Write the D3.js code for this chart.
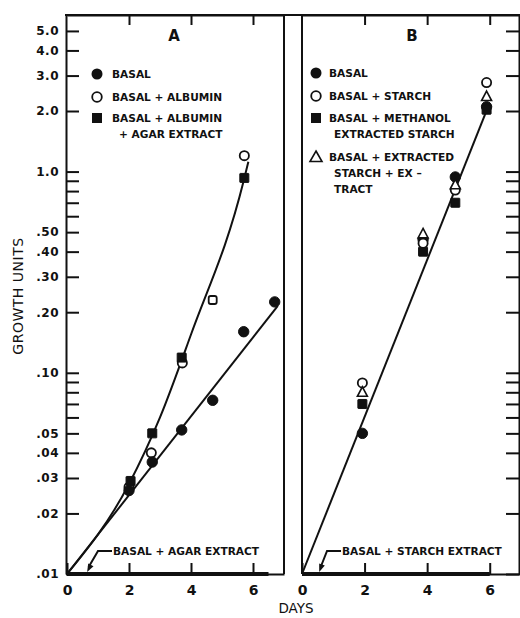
<!DOCTYPE html>
<html>
<head>
<meta charset="utf-8">
<script src="https://cdn.jsdelivr.net/npm/d3@7"></script>
<style>
body { margin: 0; background: #fff; }
text { font-family: "DejaVu Sans", sans-serif; fill: #111; }
</style>
</head>
<body>
<div id="chart"></div>
<script>
//width and height
var w = 520;
var h = 618;

// panel A data
var daysBasalA = [2, 2.75, 3.7, 4.7, 5.7, 6.7];
var basalA = [0.026, 0.036, 0.052, 0.073, 0.16, 0.225];
var daysAlbuminA = [2, 2.72, 3.72, 5.72];
var albuminA = [0.027, 0.040, 0.112, 1.2];
var daysOddA = [4.7];
var oddA = [0.23];
var daysAgarA = [2.05, 2.75, 3.7, 5.72];
var agarA = [0.029, 0.050, 0.119, 0.93];
var fitBasalA = [[0, 0.01], [6.8, 0.215]];
var fitAlbuminA = [[0, 0.01], [2, 0.028], [3, 0.06], [4, 0.155], [5.7, 0.9], [5.85, 1.12]];
var agarExtractA = [[0, 0.01], [6.5, 0.01]];

// panel B data
var daysB = [1.93, 3.87, 4.9, 5.9];
var basalB = [0.050, 0.46, 0.94, 2.1];
var starchB = [0.089, 0.44, 0.81, 2.77];
var methanolB = [0.070, 0.40, 0.70, 2.03];
var extractB = [0.080, 0.49, 0.86, 2.36];
var fitB = [[0, 0.01], [5.95, 2.1]];
var starchExtractB = [[0, 0.01], [6, 0.01]];

// axes
var yTicks = [0.01, 0.02, 0.03, 0.04, 0.05, 0.06, 0.07, 0.08, 0.09, 0.1, 0.2, 0.3, 0.4, 0.5, 0.6, 0.7, 0.8, 0.9, 1, 2, 3, 4, 5];
var yTickLabels = {0.01: ".01", 0.02: ".02", 0.03: ".03", 0.04: ".04", 0.05: ".05", 0.1: ".10", 0.2: ".20",
	0.3: ".30", 0.4: ".40", 0.5: ".50", 1: "1.0", 2: "2.0", 3: "3.0", 4: "4.0", 5: "5.0"};
var xTicks = [0, 2, 4, 6];
var xTopTicks = [2, 4, 6];

// legends
var legendA = [["BASAL"], ["BASAL + ALBUMIN"], ["BASAL + ALBUMIN", "+ AGAR EXTRACT"]];
var legendB = [["BASAL"], ["BASAL + STARCH"], ["BASAL + METHANOL", "EXTRACTED STARCH"], ["BASAL + EXTRACTED", "STARCH + EX –", "TRACT"]];

var zip = function (xs, ys) { return xs.map(function (d, i) { return [d, ys[i]]; }); };

var svg = d3.select("#chart")
	.append("svg")
	.attr("width", w)
	.attr("height", h);

//scale functions
var y = d3.scaleLog().domain([0.01, 6]).range([574, 15]);
var xA = d3.scaleLinear().domain([0, 7]).range([67, 284]);
var xB = d3.scaleLinear().domain([0, 7]).range([302, 521]);

function styleAxis(g, size) {
	g.attr("font-family", null).attr("font-size", null);
	g.selectAll("path, line").attr("stroke", "#111").attr("stroke-width", 2);
	g.selectAll("text").attr("font-size", size).attr("font-weight", "bold").attr("fill", "#111");
}

// top border
svg.append("line")
	.attr("x1", 65).attr("x2", 521)
	.attr("y1", y(6)).attr("y2", y(6))
	.attr("stroke", "#111").attr("stroke-width", 2);

// left y axis
svg.append("g")
	.attr("transform", "translate(66,0)")
	.call(d3.axisLeft(y).tickValues(yTicks).tickSize(-13).tickSizeOuter(0).tickPadding(7)
		.tickFormat(function (d) { return yTickLabels[d] || ""; }))
	.call(styleAxis, "12px")
	.selectAll("text").attr("letter-spacing", "0.5px");

// right y axis, panel B
svg.append("g")
	.attr("transform", "translate(519,0)")
	.call(d3.axisRight(y).tickValues(yTicks).tickSize(-13).tickSizeOuter(0).tickFormat(""))
	.call(styleAxis, "12px");

// panel borders (double line)
[xA(7), xB(0)].forEach(function (px) {
	svg.append("line")
		.attr("x1", px).attr("x2", px)
		.attr("y1", y(6)).attr("y2", y(0.01))
		.attr("stroke", "#111").attr("stroke-width", 2);
});

// x axes
[xA, xB].forEach(function (x) {
	svg.append("g")
		.attr("transform", "translate(0," + y(0.01) + ")")
		.call(d3.axisBottom(x).tickValues(xTicks).tickSize(-11).tickSizeOuter(0).tickPadding(11)
			.tickFormat(d3.format("d")))
		.call(styleAxis, "14px");
	svg.append("g")
		.attr("transform", "translate(0," + y(6) + ")")
		.call(d3.axisTop(x).tickValues(xTopTicks).tickSize(-10).tickSizeOuter(0).tickFormat(""))
		.call(styleAxis, "12px");
});

// axis titles
svg.append("text")
	.attr("transform", "translate(22.5,296) rotate(-90)")
	.attr("text-anchor", "middle")
	.attr("font-size", "14px")
	.attr("letter-spacing", "0.5px")
	.text("GROWTH UNITS");

svg.append("text")
	.attr("x", 296).attr("y", 613)
	.attr("text-anchor", "middle")
	.attr("font-size", "13.5px")
	.text("DAYS");

// panel letters
[["A", 174], ["B", 412]].forEach(function (p) {
	svg.append("text")
		.attr("x", p[1]).attr("y", 41)
		.attr("text-anchor", "middle")
		.attr("font-family", "'DejaVu Sans Condensed', 'DejaVu Sans', sans-serif")
		.attr("font-weight", "bold")
		.attr("font-size", "15px")
		.text(p[0]);
});

// lines
function lineFor(x, curve) {
	return d3.line()
		.x(function (d) { return x(d[0]); })
		.y(function (d) { return y(d[1]); })
		.curve(curve || d3.curveLinear);
}

svg.append("path").attr("d", lineFor(xA)(fitBasalA))
	.attr("fill", "none").attr("stroke", "#111").attr("stroke-width", 2);
svg.append("path").attr("d", lineFor(xA, d3.curveMonotoneX)(fitAlbuminA))
	.attr("fill", "none").attr("stroke", "#111").attr("stroke-width", 2);
svg.append("path").attr("d", lineFor(xB)(fitB))
	.attr("fill", "none").attr("stroke", "#111").attr("stroke-width", 2);

// zero growth lines along the bottom
svg.append("path").attr("d", lineFor(xA)(agarExtractA))
	.attr("fill", "none").attr("stroke", "#111").attr("stroke-width", 4);
svg.append("path").attr("d", lineFor(xB)(starchExtractB))
	.attr("fill", "none").attr("stroke", "#111").attr("stroke-width", 4);

// marker helpers
function circles(data, x, filled, r) {
	svg.selectAll(null)
		.data(data)
		.enter()
		.append("circle")
		.attr("cx", function (d) { return x(d[0]); })
		.attr("cy", function (d) { return y(d[1]); })
		.attr("r", r)
		.attr("fill", filled ? "#111" : "#fff")
		.attr("stroke", "#111")
		.attr("stroke-width", filled ? 1 : 1.8);
}

function squares(data, x, filled, s) {
	svg.selectAll(null)
		.data(data)
		.enter()
		.append("rect")
		.attr("x", function (d) { return x(d[0]) - s / 2; })
		.attr("y", function (d) { return y(d[1]) - s / 2; })
		.attr("width", s).attr("height", s)
		.attr("rx", filled ? 0.5 : 2)
		.attr("fill", filled ? "#111" : "#fff")
		.attr("stroke", "#111")
		.attr("stroke-width", filled ? 1 : 1.8);
}

function triangles(data, x, s) {
	svg.selectAll(null)
		.data(data)
		.enter()
		.append("path")
		.attr("d", function (d) {
			var cx = x(d[0]), cy = y(d[1]);
			return "M" + cx + "," + (cy - s * 0.55) + "L" + (cx + s / 2) + "," + (cy + s * 0.4) +
				"L" + (cx - s / 2) + "," + (cy + s * 0.4) + "Z";
		})
		.attr("fill", "#fff")
		.attr("stroke", "#111")
		.attr("stroke-width", 1.6);
}

// panel A points
circles(zip(daysAlbuminA, albuminA), xA, false, 4.6);
squares(zip(daysOddA, oddA), xA, false, 8);
squares(zip(daysAgarA, agarA), xA, true, 9);
circles(zip(daysBasalA, basalA), xA, true, 5.2);

// panel B points
circles(zip(daysB, basalB), xB, true, 5.2);
squares(zip(daysB, methanolB), xB, true, 9);
circles(zip(daysB, starchB), xB, false, 4.6);
triangles(zip(daysB, extractB), xB, 10);

// legends
function legend(rows, rowY, mx, tx, indent) {
	rows.forEach(function (lines, i) {
		lines.forEach(function (t, j) {
			svg.append("text")
				.attr("x", j === 0 ? tx : tx + indent)
				.attr("y", rowY[i] + j * 16)
				.attr("dy", "0.37em")
				.attr("font-size", "10.6px")
				.attr("font-weight", "bold")
				.text(t);
		});
	});
}

var legRowsA = [74, 97, 118];
legend(legendA, legRowsA, 97, 112, 7);
svg.append("circle").attr("cx", 97).attr("cy", legRowsA[0]).attr("r", 5.5).attr("fill", "#111");
svg.append("circle").attr("cx", 97).attr("cy", legRowsA[1]).attr("r", 4.8)
	.attr("fill", "#fff").attr("stroke", "#111").attr("stroke-width", 1.8);
svg.append("rect").attr("x", 92).attr("y", legRowsA[2] - 5).attr("width", 10).attr("height", 10).attr("fill", "#111");

var legRowsB = [73, 96, 118, 157];
legend(legendB, legRowsB, 316, 329, 5);
svg.append("circle").attr("cx", 316).attr("cy", legRowsB[0]).attr("r", 5.5).attr("fill", "#111");
svg.append("circle").attr("cx", 316).attr("cy", legRowsB[1]).attr("r", 4.8)
	.attr("fill", "#fff").attr("stroke", "#111").attr("stroke-width", 1.8);
svg.append("rect").attr("x", 311).attr("y", legRowsB[2] - 5).attr("width", 10).attr("height", 10).attr("fill", "#111");
svg.append("path")
	.attr("d", "M316," + (legRowsB[3] - 6) + "L322," + (legRowsB[3] + 4.5) + "L310," + (legRowsB[3] + 4.5) + "Z")
	.attr("fill", "#fff").attr("stroke", "#111").attr("stroke-width", 1.6);

// arrow annotations for zero growth
function arrowNote(x, tipDay, kneeDay, label) {
	var tx = x(tipDay), ty = y(0.01) - 2;
	var kx = x(kneeDay), ky = y(0.01) - 23;
	svg.append("path")
		.attr("d", "M" + (kx + 14) + "," + ky + "L" + kx + "," + ky + "L" + (tx + 1.5) + "," + (ty - 5))
		.attr("fill", "none").attr("stroke", "#111").attr("stroke-width", 2);
	var dx = tx - kx, dy = ty - ky, len = Math.sqrt(dx * dx + dy * dy);
	var ux = dx / len, uy = dy / len;
	var bx = tx - ux * 8, by = ty - uy * 8;
	svg.append("path")
		.attr("d", "M" + tx + "," + ty + "L" + (bx - uy * 3) + "," + (by + ux * 3) + "L" + (bx + uy * 3) + "," + (by - ux * 3) + "Z")
		.attr("fill", "#111");
	svg.append("text")
		.attr("x", kx + 15).attr("y", ky)
		.attr("dy", "0.37em")
		.attr("font-size", "10.6px")
		.attr("font-weight", "bold")
		.text(label);
}

arrowNote(xA, 0.65, 1.0, "BASAL + AGAR EXTRACT");
arrowNote(xB, 0.55, 0.8, "BASAL + STARCH EXTRACT");
</script>
</body>
</html>
